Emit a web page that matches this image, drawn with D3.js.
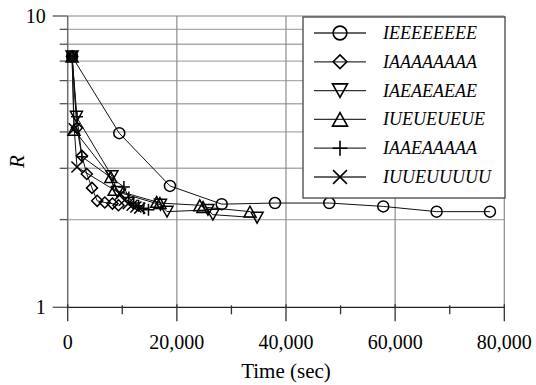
<!DOCTYPE html>
<html>
<head>
<meta charset="utf-8">
<script src="https://cdn.jsdelivr.net/npm/d3@7"></script>
<style>
  svg text { font-family: "Tinos", "Nimbus Roman", "FreeSerif", "Liberation Serif", "Times New Roman", serif !important; }
</style>
</head>
<body style="margin:0">
<svg id="chart" width="536" height="385"></svg>
<script>
// Sequence names (legend order)
const seriesNames = ["IEEEEEEEE", "IAAAAAAAA", "IAEAEAEAE", "IUEUEUEUE", "IAAEAAAAA", "IUUEUUUUU"];
const markerTypes = ["circle", "diamond", "triangleDown", "triangleUp", "plus", "cross"];

// Elapsed time (sec) at each step of every sequence
const timeIEEEEEEEE = [800, 9450, 18740, 28220, 37980, 47930, 57820, 67600, 77370];
const timeIAAAAAAAA = [800, 1700, 2600, 3500, 4450, 5400, 6800, 8200, 9300];
const timeIAEAEAEAE = [800, 1600, 8100, 9100, 17000, 18200, 25700, 26600, 34700];
const timeIUEUEUEUE = [800, 1150, 7900, 8500, 16300, 16900, 24200, 24800, 33400];
const timeIAAEAAAAA = [800, 1700, 2600, 10300, 11200, 12100, 13000, 13900, 14800];
const timeIUUEUUUUU = [800, 1200, 1700, 9700, 10400, 11100, 11800, 12500, 13200];

// R measured at each step
const rIEEEEEEEE = [7.26, 3.96, 2.61, 2.26, 2.28, 2.28, 2.22, 2.13, 2.13];
const rIAAAAAAAA = [7.26, 4.13, 3.31, 2.87, 2.57, 2.32, 2.29, 2.27, 2.24];
const rIAEAEAEAE = [7.26, 4.51, 2.82, 2.49, 2.25, 2.13, 2.16, 2.08, 2.03];
const rIUEUEUEUE = [7.26, 4.07, 2.80, 2.53, 2.30, 2.28, 2.24, 2.21, 2.13];
const rIAAEAAAAA = [7.26, 4.51, 3.29, 2.59, 2.38, 2.28, 2.23, 2.19, 2.16];
const rIUUEUUUUU = [7.26, 4.10, 3.03, 2.45, 2.33, 2.27, 2.24, 2.21, 2.19];

// Axis ticks
const xMajorTicks = [0, 20000, 40000, 60000, 80000];
const xMinorTicks = [10000, 30000, 50000, 70000];
const yMajorTicks = [1, 10];
const yMinorTicks = [2, 3, 4, 5, 6, 7, 8, 9];

const times = [timeIEEEEEEEE, timeIAAAAAAAA, timeIAEAEAEAE, timeIUEUEUEUE, timeIAAEAAAAA, timeIUUEUUUUU];
const values = [rIEEEEEEEE, rIAAAAAAAA, rIAEAEAEAE, rIUEUEUEUE, rIAAEAAAAA, rIUUEUUUUU];

const series = seriesNames.map((name, i) => ({
  name,
  marker: markerTypes[i],
  points: times[i].map((t, j) => ({ t, r: values[i][j] }))
}));

const serifStack = '"Tinos", "Nimbus Roman", "FreeSerif", "Liberation Serif", serif';
const svg = d3.select("#chart");
const plotLeft = 67.7, plotRight = 504.3, plotTop = 16, plotBottom = 307.3;

const x = d3.scaleLinear().domain([0, 80000]).range([plotLeft, plotRight]);
const y = d3.scaleLog().domain([1, 10]).range([plotBottom, plotTop]);

// Horizontal grid (every log step)
svg.append("g")
  .selectAll("line")
  .data(yMinorTicks.concat([10]))
  .join("line")
  .attr("x1", plotLeft).attr("x2", plotRight)
  .attr("y1", d => y(d)).attr("y2", d => y(d))
  .attr("stroke", "#ababab").attr("stroke-width", 1.4);

// Vertical grid
svg.append("g")
  .selectAll("line")
  .data(xMajorTicks.filter(d => d > 0))
  .join("line")
  .attr("x1", d => x(d)).attr("x2", d => x(d))
  .attr("y1", plotTop).attr("y2", plotBottom)
  .attr("stroke", "#8c8c8c").attr("stroke-width", 1.2);

// Y axis
const yAxis = svg.append("g").attr("transform", `translate(${plotLeft},0)`);
yAxis.append("line")
  .attr("x1", 0).attr("x2", 0).attr("y1", plotTop).attr("y2", plotBottom)
  .attr("stroke", "#6e6e6e").attr("stroke-width", 1.5);
yAxis.selectAll(".ymaj")
  .data(yMajorTicks).join("line")
  .attr("class", "ymaj")
  .attr("x1", -15).attr("x2", 0)
  .attr("y1", d => y(d)).attr("y2", d => y(d))
  .attr("stroke", "#555").attr("stroke-width", 1.3);
yAxis.selectAll(".ymin")
  .data(yMinorTicks).join("line")
  .attr("class", "ymin")
  .attr("x1", -8).attr("x2", 0)
  .attr("y1", d => y(d)).attr("y2", d => y(d))
  .attr("stroke", "#555").attr("stroke-width", 1.3);

// Marker shapes (s = half size)
function markerPath(type, s) {
  switch (type) {
    case "circle":
      return `M${-s},0A${s},${s} 0 1,0 ${s},0A${s},${s} 0 1,0 ${-s},0Z`;
    case "diamond":
      return `M0,${-s}L${s},0L0,${s}L${-s},0Z`;
    case "triangleDown": {
      const h = s * 0.9;
      return `M${-s},${-h}L${s},${-h}L0,${h}Z`;
    }
    case "triangleUp": {
      const h = s * 0.9;
      return `M${-s},${h}L${s},${h}L0,${-h}Z`;
    }
    case "plus":
      return `M${-s},0L${s},0M0,${-s}L0,${s}`;
    case "cross": {
      const c = s * 0.85;
      return `M${-c},${-c}L${c},${c}M${-c},${c}L${c},${-c}`;
    }
  }
}
const markerSize = { circle: 5.5, diamond: 5.5, triangleDown: 6, triangleUp: 6, plus: 6, cross: 6.5 };

// X axis
const xAxis = svg.append("g").attr("transform", `translate(0,${plotBottom})`);
xAxis.append("line")
  .attr("x1", plotLeft).attr("x2", plotRight).attr("y1", 0).attr("y2", 0)
  .attr("stroke", "#222").attr("stroke-width", 1.3);
xAxis.selectAll(".xmaj")
  .data(xMajorTicks).join("line")
  .attr("class", "xmaj")
  .attr("x1", d => x(d)).attr("x2", d => x(d))
  .attr("y1", -3).attr("y2", 14)
  .attr("stroke", "#333").attr("stroke-width", 1.3);
xAxis.selectAll(".xmin")
  .data(xMinorTicks).join("line")
  .attr("class", "xmin")
  .attr("x1", d => x(d)).attr("x2", d => x(d))
  .attr("y1", -2).attr("y2", 7)
  .attr("stroke", "#333").attr("stroke-width", 1.3);

// Series lines and markers
const line = d3.line().x(d => x(d.t)).y(d => y(d.r));
const plot = svg.append("g");
series.slice().reverse().forEach(s => {
  const g = plot.append("g");
  g.append("path")
    .datum(s.points)
    .attr("d", line)
    .attr("fill", "none")
    .attr("stroke", "#111")
    .attr("stroke-width", 1);
  g.selectAll("path.m")
    .data(s.points).join("path")
    .attr("class", "m")
    .attr("transform", d => `translate(${x(d.t)},${y(d.r)})`)
    .attr("d", markerPath(s.marker, markerSize[s.marker]))
    .attr("fill", "none")
    .attr("stroke", "#000")
    .attr("stroke-width", 1.5);
});

// Legend frame and samples
const legendRowY = d3.scalePoint().domain(seriesNames).range([33, 177]);
svg.append("rect")
  .attr("x", 303).attr("y", 17)
  .attr("width", 202).attr("height", 181)
  .attr("fill", "#fff")
  .attr("stroke", "#444").attr("stroke-width", 1.3);
svg.append("g").selectAll("line").data(series).join("line")
  .attr("x1", 314).attr("x2", 366)
  .attr("y1", d => legendRowY(d.name)).attr("y2", d => legendRowY(d.name))
  .attr("stroke", "#333").attr("stroke-width", 1.3);
svg.append("g").selectAll("path").data(series).join("path")
  .attr("transform", d => `translate(340,${legendRowY(d.name)})`)
  .attr("d", d => markerPath(d.marker, markerSize[d.marker] * 1.25))
  .attr("fill", "none")
  .attr("stroke", "#000").attr("stroke-width", 1.6);

// All text labels
const labels = [];
yMajorTicks.forEach(v => labels.push({ text: d3.format("d")(v), x: plotLeft - 22, y: y(v) + 7, anchor: "end", size: 20, italic: false }));
xMajorTicks.forEach(v => labels.push({ text: d3.format(",d")(v), x: x(v), y: plotBottom + 42, anchor: "middle", size: 20, italic: false }));
labels.push({ text: "Time (sec)", x: (plotLeft + plotRight) / 2, y: 378, anchor: "middle", size: 21, italic: false });
series.forEach(s => labels.push({ text: s.name, x: 383, y: legendRowY(s.name) + 6, anchor: "start", size: 18, italic: true }));

svg.selectAll("text.lbl").data(labels).join("text")
  .attr("class", "lbl")
  .attr("x", d => d.x).attr("y", d => d.y)
  .attr("text-anchor", d => d.anchor)
  .attr("font-size", d => d.size)
  .attr("font-family", serifStack)
  .style("font-family", serifStack, "important")
  .style("font-style", d => d.italic ? "italic" : null)
  .text(d => d.text);

// Rotated y-axis title
svg.append("text")
  .attr("transform", `translate(24,${(plotTop + plotBottom) / 2}) rotate(-90)`)
  .attr("text-anchor", "middle")
  .attr("font-size", 21)
  .attr("font-family", serifStack)
  .style("font-family", serifStack, "important")
  .style("font-style", "italic")
  .text("R");
</script>
</body>
</html>
